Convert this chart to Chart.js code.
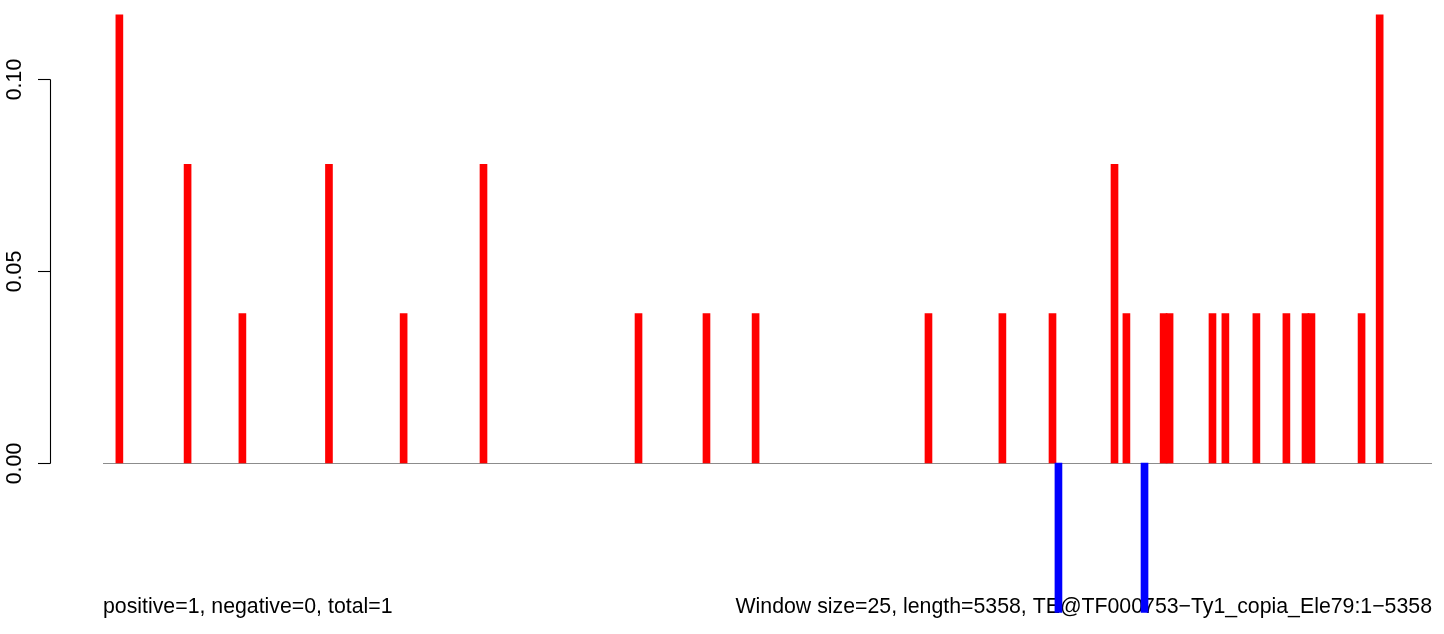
<!DOCTYPE html>
<html>
<head>
<meta charset="utf-8">
<script src="https://cdn.jsdelivr.net/npm/chart.js@4/dist/chart.umd.min.js"></script>
<style>
html,body{margin:0;padding:0;background:#fff;}
#c{display:block;}
</style>
</head>
<body>
<canvas id="c" width="1444" height="634"></canvas>
<script>
// Window positions along the element (bp) and their scores
const positions = [66, 341, 562, 911, 1212, 1534, 2159, 2433, 2631, 3328, 3626, 3828, 3852, 4078, 4126, 4199, 4276, 4300, 4473, 4525, 4650, 4771, 4848, 4872, 5074, 5147];
const scores    = [0.1167, 0.0778, 0.0389, 0.0778, 0.0389, 0.0778, 0.0389, 0.0389, 0.0389, 0.0389, 0.0389, 0.0389, -0.0389, 0.0778, 0.0389, -0.0389, 0.0389, 0.0389, 0.0389, 0.0389, 0.0389, 0.0389, 0.0389, 0.0389, 0.0389, 0.1167];
const yTickValues = [0, 0.05, 0.10];
const yTickLabels = ['0.00', '0.05', '0.10'];
const seqLength = 5358;
const leftNote = 'positive=1, negative=0, total=1';
const rightNote = 'Window size=25, length=5358, TE@TF000753\u2212Ty1_copia_Ele79:1\u22125358';

const FONT = '"Liberation Sans", Arial, Helvetica, sans-serif';

const decorPlugin = {
  id: 'decor',
  beforeDatasetsDraw(chart) {
    const ctx = chart.ctx;
    const xs = chart.scales.x, ys = chart.scales.y;
    ctx.save();
    // baseline at zero
    const y0 = Math.round(ys.getPixelForValue(0)) + 0.5;
    ctx.strokeStyle = '#8c8c8c';
    ctx.lineWidth = 1.2;
    ctx.beginPath();
    ctx.moveTo(xs.getPixelForValue(0), y0);
    ctx.lineTo(xs.getPixelForValue(seqLength), y0);
    ctx.stroke();
    // y axis
    const axX = 50.5;
    ctx.strokeStyle = '#000';
    ctx.lineWidth = 1.1;
    ctx.beginPath();
    ctx.moveTo(axX, Math.round(ys.getPixelForValue(yTickValues[0])) + 0.5);
    ctx.lineTo(axX, Math.round(ys.getPixelForValue(yTickValues[yTickValues.length - 1])) + 0.5);
    ctx.stroke();
    ctx.fillStyle = '#000';
    ctx.font = '21.3px ' + FONT;
    ctx.textAlign = 'center';
    ctx.textBaseline = 'alphabetic';
    yTickValues.forEach((v, i) => {
      const py = Math.round(ys.getPixelForValue(v)) + 0.5;
      ctx.beginPath();
      ctx.moveTo(38, py);
      ctx.lineTo(axX, py);
      ctx.stroke();
      ctx.save();
      ctx.translate(21, py);
      ctx.rotate(-Math.PI / 2);
      ctx.fillText(yTickLabels[i], 0, 0);
      ctx.restore();
    });
    // footer notes
    ctx.textAlign = 'left';
    ctx.fillText(leftNote, xs.getPixelForValue(0), 613);
    ctx.textAlign = 'right';
    ctx.fillText(rightNote, xs.getPixelForValue(seqLength), 613);
    ctx.restore();
  }
};

const xPxLeft = 103, xPxRight = 1432, W = 1444;
const span = seqLength * W / (xPxRight - xPxLeft);
const xMin = -xPxLeft * span / W;
const xMax = xMin + span;
const pxPerUnit = 3840;
const yMax = 463 / pxPerUnit;
const yMin = -(634 - 463) / pxPerUnit;

new Chart(document.getElementById('c'), {
  type: 'bar',
  data: {
    datasets: [{
      data: positions.map((p, i) => ({ x: p, y: scores[i] })),
      backgroundColor: ctx => (ctx.raw && ctx.raw.y < 0) ? '#0000ff' : '#ff0000',
      borderWidth: 0,
      barThickness: 7
    }]
  },
  options: {
    responsive: false,
    animation: false,
    devicePixelRatio: 1,
    layout: { padding: 0 },
    plugins: { legend: { display: false }, tooltip: { enabled: false } },
    scales: {
      x: { type: 'linear', min: xMin, max: xMax, display: false, offset: false },
      y: { type: 'linear', min: yMin, max: yMax, display: false }
    }
  },
  plugins: [decorPlugin]
});
</script>
</body>
</html>
